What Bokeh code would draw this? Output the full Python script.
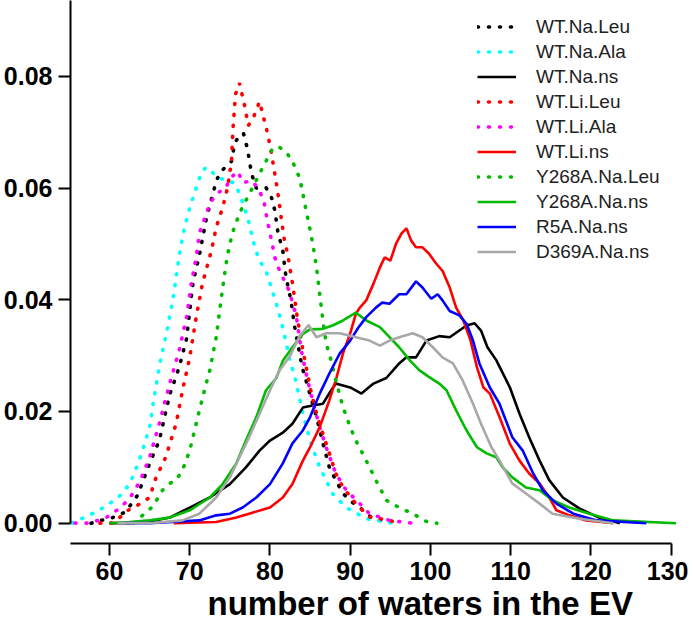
from bokeh.plotting import figure
from bokeh.models import Range1d, FixedTicker, NumeralTickFormatter, Title
from bokeh.embed import file_html
from bokeh.resources import INLINE

# ---- data ----
wt_na_leu_x = [57.7, 59, 60.4, 62, 63.5, 65, 66.2, 67.5, 68.7, 69.6, 70.4, 71.2, 72.1, 72.9, 73.3, 73.9, 75.2, 75.6, 76.2, 76.7, 77.2, 77.7, 78.3, 79.1, 79.5, 80.2, 80.6, 81.0, 81.6, 82.0, 82.6, 83.1, 84.0, 85.0, 85.8, 86.6, 87.4, 88.2, 89.1, 90.2, 91.2, 92.2, 93.2, 94.5, 96.1]
wt_na_leu_y = [0, 0.0005, 0.001, 0.002, 0.005, 0.0107, 0.0148, 0.023, 0.028, 0.033, 0.043, 0.048, 0.0548, 0.059, 0.0613, 0.063, 0.0648, 0.068, 0.0695, 0.0698, 0.067, 0.0626, 0.060, 0.060, 0.0601, 0.0583, 0.056, 0.052, 0.0488, 0.044, 0.040, 0.035, 0.028, 0.023, 0.019, 0.0143, 0.010, 0.0077, 0.0053, 0.0038, 0.0028, 0.0015, 0.0005, 0.0005, 0.0]

wt_na_ala_x = [55.3, 56.5, 58, 59.5, 61, 62, 63, 64, 65, 65.5, 66.2, 67.1, 67.9, 68.7, 69.2, 70, 70.8, 71.4, 72.0, 72.6, 73.3, 74.5, 75.6, 76.2, 76.8, 77.4, 78.1, 78.7, 79.5, 80.8, 81.6, 82.4, 83.3, 84.1, 85.0, 86.2, 87.8, 89.5, 92, 95.3]
wt_na_ala_y = [0, 0.0008, 0.0018, 0.003, 0.0045, 0.006, 0.0085, 0.0125, 0.0172, 0.022, 0.028, 0.034, 0.040, 0.048, 0.052, 0.0565, 0.060, 0.0626, 0.0637, 0.0633, 0.062, 0.0614, 0.0609, 0.059, 0.0566, 0.0537, 0.0494, 0.047, 0.0452, 0.0393, 0.035, 0.0297, 0.025, 0.0196, 0.0148, 0.010, 0.0053, 0.0028, 0.0008, 0]

wt_na_ns_x = [60, 62.5, 65, 67.5, 70, 72.5, 75, 77, 78.7, 80, 81.6, 82.8, 84.1, 85, 86.6, 87.5, 88.2, 90, 91.4, 92.9, 94.5, 96.1, 97, 98.2, 99.5, 101.1, 102.4, 103.6, 104.5, 105.5, 106.3, 107.1, 108.2, 109.9, 111.1, 112.3, 113.6, 114.8, 116.5, 118.6, 121, 123.6]
wt_na_ns_y = [0, 0, 0.0003, 0.001, 0.0028, 0.0046, 0.007, 0.010, 0.013, 0.0148, 0.0162, 0.0178, 0.0207, 0.021, 0.0214, 0.0235, 0.025, 0.0243, 0.0232, 0.025, 0.026, 0.0286, 0.0297, 0.0297, 0.0327, 0.0335, 0.0333, 0.0345, 0.0354, 0.0358, 0.0345, 0.0315, 0.0292, 0.0243, 0.0196, 0.0154, 0.0112, 0.0077, 0.0046, 0.0026, 0.001, 0]

wt_li_leu_x = [58.8, 60.4, 61.6, 62.3, 63.5, 65, 65.8, 67, 68.3, 69.1, 70, 70.8, 71.6, 72.7, 73.3, 74.1, 74.7, 75.2, 75.4, 75.7, 76.2, 76.8, 77.3, 77.9, 78.3, 78.7, 79.3, 79.7, 80.2, 80.6, 81.0, 81.4, 81.8, 82.2, 82.8, 83.4, 84.1, 85.0, 85.8, 86.6, 87.4, 88.2, 89.1, 90.7, 92.4, 94.9, 95.9]
wt_li_leu_y = [0, 0, 0.0014, 0.0023, 0.0032, 0.0046, 0.0082, 0.0118, 0.0178, 0.0238, 0.0297, 0.0369, 0.043, 0.0488, 0.053, 0.0565, 0.060, 0.0648, 0.0708, 0.0768, 0.0788, 0.075, 0.0712, 0.0725, 0.074, 0.0755, 0.0721, 0.0698, 0.0661, 0.0626, 0.059, 0.0547, 0.0506, 0.0482, 0.043, 0.0369, 0.031, 0.0243, 0.0196, 0.016, 0.0125, 0.0089, 0.0064, 0.0035, 0.0011, 0.0005, 0]

wt_li_ala_x = [55.7, 57.5, 59.6, 61.2, 62.5, 63.8, 65, 66.2, 67.5, 68.7, 69.6, 70.2, 70.8, 71.2, 72.5, 73.3, 74.5, 75, 76, 76.6, 77.8, 78.7, 79.3, 79.7, 80.2, 80.6, 81.2, 82.4, 83.3, 83.9, 84.5, 85.3, 86.2, 87, 88.2, 89.5, 91.2, 92.4, 94.9, 97.8]
wt_li_ala_y = [0, 0, 0.001, 0.0026, 0.0044, 0.0075, 0.0118, 0.0178, 0.025, 0.031, 0.0369, 0.043, 0.0476, 0.0519, 0.0572, 0.059, 0.060, 0.0617, 0.063, 0.061, 0.0613, 0.0596, 0.0572, 0.054, 0.0506, 0.0476, 0.0452, 0.0416, 0.0369, 0.031, 0.0268, 0.022, 0.0172, 0.0136, 0.0089, 0.0059, 0.0035, 0.0017, 0.0005, 0]

wt_li_ns_x = [68, 73.3, 75.8, 77.4, 80, 81.6, 82.8, 84.1, 85, 86.2, 87.4, 88.2, 89.1, 90, 90.7, 91.2, 92, 92.9, 93.7, 94.3, 95, 95.7, 96.4, 97, 97.6, 98.2, 99, 99.8, 100.7, 101.5, 102.4, 103.2, 104.1, 105, 105.8, 106.6, 107.4, 108.6, 109.9, 111.1, 112.3, 113.6, 114.8, 115.7, 117.3, 119.4, 122.8]
wt_li_ns_y = [0, 0.0002, 0.001, 0.0017, 0.0028, 0.0046, 0.007, 0.0112, 0.0136, 0.0172, 0.022, 0.0256, 0.0304, 0.034, 0.0375, 0.0386, 0.0399, 0.0429, 0.0458, 0.0476, 0.047, 0.050, 0.0519, 0.0528, 0.0506, 0.0494, 0.0494, 0.0483, 0.0465, 0.0452, 0.0422, 0.0386, 0.0363, 0.0327, 0.0279, 0.0243, 0.0232, 0.019, 0.0142, 0.0112, 0.0089, 0.0071, 0.0046, 0.0023, 0.0014, 0.0005, 0]

y268a_na_leu_x = [63.0, 64.2, 65.4, 66.6, 67.5, 68.3, 69.1, 70, 70.8, 71.6, 72.5, 73.3, 73.9, 74.4, 74.7, 75.3, 76.2, 77, 77.8, 78.7, 79.5, 80.3, 81, 82, 82.8, 83.7, 84.1, 84.5, 85, 85.4, 85.8, 86.2, 86.6, 87, 87.6, 88.2, 89.1, 90, 90.7, 92, 93.2, 94.5, 96.1, 97.8, 99.5, 100.8]
y268a_na_leu_y = [0, 0.0015, 0.003, 0.0059, 0.0071, 0.0077, 0.0095, 0.013, 0.0178, 0.0225, 0.0274, 0.0333, 0.040, 0.0452, 0.048, 0.0519, 0.0555, 0.0578, 0.060, 0.0626, 0.0648, 0.067, 0.0675, 0.0665, 0.0648, 0.0618, 0.059, 0.056, 0.0525, 0.0495, 0.0458, 0.041, 0.0363, 0.0322, 0.0292, 0.0256, 0.0208, 0.0172, 0.0148, 0.0112, 0.0077, 0.0041, 0.0028, 0.0017, 0.0003, 0]

y268a_na_ns_x = [60, 62.5, 65, 67.5, 70, 72.5, 74.1, 75.8, 77, 78.3, 79.5, 80.8, 81.6, 82.8, 84.1, 85, 86.6, 87.8, 89.1, 90.7, 92, 93.7, 94.9, 96.1, 97.4, 98.6, 99.8, 101.1, 102, 103.2, 104.5, 105.8, 107, 108.2, 109, 110.2, 111.9, 113.6, 115.2, 117.3, 119.8, 122.8, 130.6]
y268a_na_ns_y = [0, 0.0002, 0.0005, 0.001, 0.0023, 0.0046, 0.007, 0.0107, 0.0148, 0.019, 0.0238, 0.026, 0.0291, 0.0315, 0.0339, 0.0347, 0.0348, 0.0354, 0.0363, 0.0377, 0.0363, 0.0351, 0.0333, 0.0315, 0.0292, 0.0274, 0.0262, 0.025, 0.0238, 0.0202, 0.0166, 0.0136, 0.0125, 0.0118, 0.010, 0.0082, 0.0064, 0.0059, 0.0041, 0.0028, 0.0017, 0.0005, 0]

r5a_na_ns_x = [62, 65, 71.2, 73.3, 75, 76.6, 78.3, 80, 81.6, 82.8, 84.1, 85, 86.2, 87.4, 88.7, 90, 91, 92, 93.2, 94, 94.9, 96.1, 97, 98.2, 99, 100.1, 100.9, 101.5, 102.4, 103.6, 104.5, 105.3, 106.1, 107.4, 108.6, 110.2, 111.5, 112.8, 114, 115.7, 117.8, 120.7, 126.9]
r5a_na_ns_y = [0, 0, 0.0005, 0.0014, 0.0017, 0.0028, 0.0046, 0.007, 0.0107, 0.0143, 0.0166, 0.019, 0.0232, 0.0268, 0.0304, 0.0327, 0.035, 0.0369, 0.0386, 0.0395, 0.0393, 0.041, 0.041, 0.0433, 0.0422, 0.0402, 0.041, 0.0399, 0.038, 0.0372, 0.0357, 0.0327, 0.0286, 0.0243, 0.0214, 0.0154, 0.013, 0.0089, 0.0059, 0.0035, 0.0017, 0.0005, 0]

d369a_na_ns_x = [61, 65, 69.1, 71.2, 73.3, 75, 76.2, 77.4, 78.7, 80, 81.2, 82.4, 83.7, 84.8, 85.8, 87, 88.7, 90.7, 92.4, 93.7, 94.9, 96.1, 97.8, 99, 100.3, 101.5, 102.8, 104, 105.3, 106.3, 107.6, 108.6, 110.2, 111.9, 113.6, 115.2, 118.6, 122.8]
d369a_na_ns_y = [0, 0, 0.0005, 0.0017, 0.0046, 0.0082, 0.0118, 0.0154, 0.0196, 0.0238, 0.0274, 0.0297, 0.0335, 0.0355, 0.0333, 0.034, 0.034, 0.0333, 0.0327, 0.0318, 0.0327, 0.0333, 0.034, 0.0333, 0.0315, 0.0297, 0.0286, 0.0256, 0.0214, 0.0178, 0.0136, 0.0112, 0.0071, 0.0053, 0.0035, 0.0017, 0.0008, 0]

series_names = ["WT.Na.Leu", "WT.Na.Ala", "WT.Na.ns", "WT.Li.Leu", "WT.Li.Ala", "WT.Li.ns",
                "Y268A.Na.Leu", "Y268A.Na.ns", "R5A.Na.ns", "D369A.Na.ns"]
x_ticks = [60, 70, 80, 90, 100, 110, 120, 130]
y_ticks = [0.00, 0.02, 0.04, 0.06, 0.08]
x_title = "number of waters in the EV"

series_x = [wt_na_leu_x, wt_na_ala_x, wt_na_ns_x, wt_li_leu_x, wt_li_ala_x, wt_li_ns_x,
            y268a_na_leu_x, y268a_na_ns_x, r5a_na_ns_x, d369a_na_ns_x]
series_y = [wt_na_leu_y, wt_na_ala_y, wt_na_ns_y, wt_li_leu_y, wt_li_ala_y, wt_li_ns_y,
            y268a_na_leu_y, y268a_na_ns_y, r5a_na_ns_y, d369a_na_ns_y]

# ---- styles ----
colors = ["black", "#00FFFF", "black", "#FF0000", "#FF00FF", "#FF0000",
          "#00BB00", "#00BB00", "#0000FF", "#A8A8A8"]
dotted = [True, True, False, True, True, False, True, False, False, False]

FONT = "Liberation Sans"
x_start, x_end = 55.14, 131.66
y_start, y_end = -0.00364, 0.0936

p = figure(frame_width=614, frame_height=543,
           x_range=Range1d(x_start, x_end), y_range=Range1d(y_start, y_end),
           output_backend="svg", toolbar_location=None,
           min_border_top=0, min_border_left=0, min_border_right=4, min_border_bottom=0)

for xs, ys, name, c, d in zip(series_x, series_y, series_names, colors, dotted):
    if d:
        p.line(xs, ys, line_color=c, line_width=3.6, line_dash="1 10", line_cap="round",
               legend_label=name)
    else:
        p.line(xs, ys, line_color=c, line_width=2.6, legend_label=name)

p.xgrid.visible = False
p.ygrid.visible = False
p.outline_line_color = None

for ax in (p.xaxis[0], p.yaxis[0]):
    ax.axis_line_width = 2
    ax.axis_line_color = "black"
    ax.major_tick_line_width = 2
    ax.major_tick_line_color = "black"
    ax.major_tick_out = 12
    ax.major_tick_in = 0
    ax.minor_tick_line_color = None
    ax.major_label_text_font = FONT
    ax.major_label_text_font_style = "bold"
    ax.major_label_text_font_size = "25px"
    ax.major_label_text_color = "black"
    ax.major_label_standoff = 6

p.xaxis.ticker = FixedTicker(ticks=x_ticks)
p.xaxis.bounds = (x_start, 130)

p.yaxis.ticker = FixedTicker(ticks=y_ticks)
p.yaxis.formatter = NumeralTickFormatter(format="0.00")
p.yaxis.bounds = (0, y_end)
p.yaxis.major_label_orientation = "horizontal"

xt = Title(text=x_title, align="left", offset=137, standoff=0,
           text_font=FONT, text_font_style="bold", text_font_size="33px",
           text_color="black")
p.add_layout(xt, "below")

lg = p.legend[0]
lg.location = (407, 279)
lg.border_line_color = None
lg.background_fill_alpha = 0
lg.label_text_font = FONT
lg.label_text_font_size = "19px"
lg.label_text_color = "#222222"
lg.glyph_width = 39
lg.glyph_height = 25
lg.label_height = 25
lg.spacing = 0
lg.padding = 0
lg.margin = 0
lg.label_standoff = 20

open("out.html", "w").write(file_html(p, INLINE))
